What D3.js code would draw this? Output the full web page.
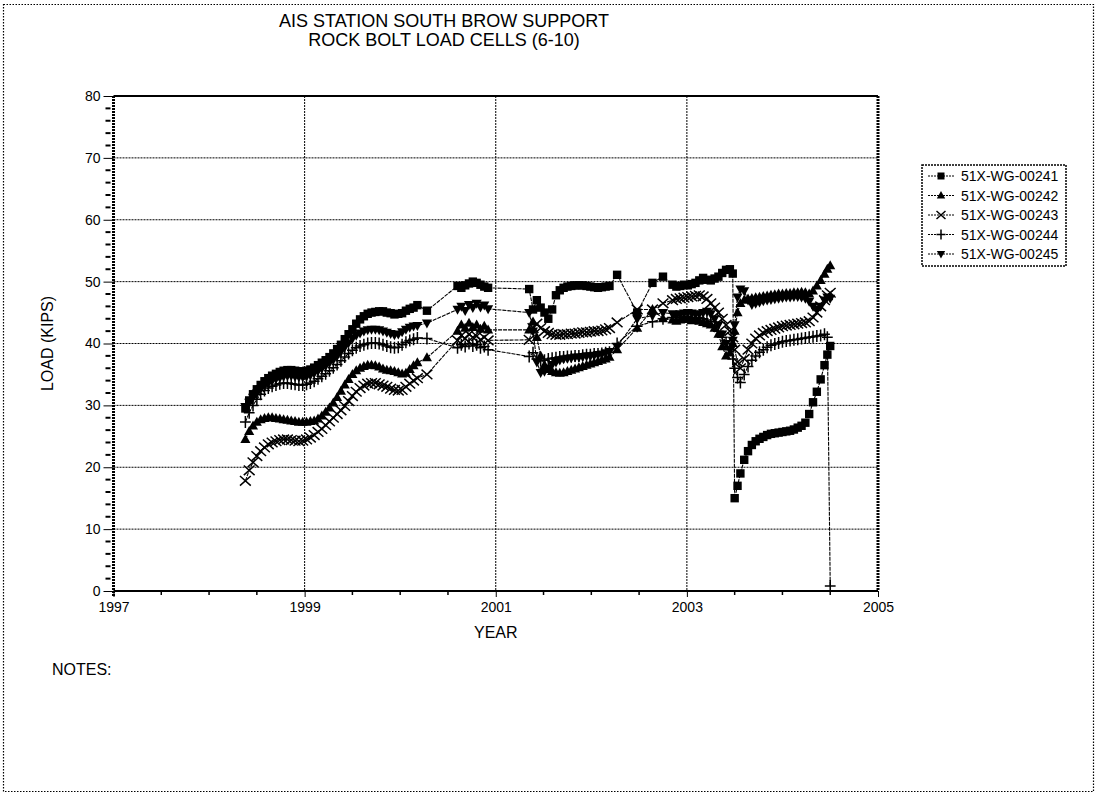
<!DOCTYPE html>
<html><head><meta charset="utf-8">
<script src="https://cdn.jsdelivr.net/npm/d3@7"></script>
<style>
body{margin:0;background:#fff}
svg{display:block}
text{font-family:Arial,"Liberation Sans",sans-serif;fill:#000}
</style>
</head><body>
<svg id="c" width="1097" height="796"></svg>
<script>
// ---------- DATA ----------
const titleLines = ["AIS STATION SOUTH BROW SUPPORT", "ROCK BOLT LOAD CELLS (6-10)"];
const seriesNames = ["51X-WG-00241", "51X-WG-00242", "51X-WG-00243", "51X-WG-00244", "51X-WG-00245"];
const xTickLabels = [1997, 1999, 2001, 2003, 2005];
const yTickLabels = [0, 10, 20, 30, 40, 50, 60, 70, 80];

const dates = [
  1998.38,1998.42,1998.46,1998.50,1998.54,1998.58,1998.62,1998.66,1998.70,1998.74,1998.78,1998.82,1998.86,1998.90,1998.94,1998.98,
  1999.02,1999.06,1999.10,1999.14,1999.18,1999.22,1999.26,1999.30,1999.34,1999.38,1999.42,1999.46,1999.50,1999.54,1999.58,1999.62,1999.66,1999.70,1999.74,1999.78,1999.82,1999.86,1999.90,1999.94,1999.98,
  2000.02,2000.06,2000.10,2000.14,2000.18,2000.28,
  2000.60,2000.64,2000.68,2000.72,2000.76,2000.80,2000.84,2000.88,2000.92,
  2001.35,2001.39,2001.43,2001.47,2001.51,2001.55,2001.59,2001.63,2001.67,2001.71,2001.75,2001.79,2001.83,2001.87,2001.91,2001.95,2001.99,2002.03,2002.07,2002.11,2002.15,2002.19,
  2002.27,2002.48,
  2002.64,2002.75,2002.85,2002.89,2002.93,2002.97,2003.01,2003.05,2003.09,2003.13,2003.17,2003.21,2003.25,2003.29,2003.33,2003.37,2003.41,2003.45,2003.48,
  2003.50,2003.53,2003.56,2003.60,2003.64,2003.68,2003.72,2003.76,2003.80,2003.84,2003.88,2003.92,2003.96,2004.00,2004.04,2004.08,2004.12,2004.16,2004.20,2004.24,2004.28,2004.32,2004.36,2004.40,2004.44,2004.47,2004.50
];

const load241 = [
  29.5,30.8,31.8,32.6,33.3,33.9,34.4,34.8,35.1,35.4,35.6,35.7,35.7,35.6,35.5,35.5,
  35.6,35.8,36.1,36.5,36.9,37.3,37.8,38.4,39.1,39.8,40.7,41.5,42.3,43.2,43.9,44.4,44.8,45.0,45.1,45.2,45.2,45.0,44.9,44.7,44.8,
  44.9,45.3,45.6,45.8,46.2,45.3,
  49.3,49.0,49.4,49.7,50.0,49.8,49.5,49.2,49.0,
  48.8,45.5,47.0,45.8,45.0,44.0,45.5,47.8,48.6,49.0,49.2,49.3,49.4,49.4,49.4,49.3,49.2,49.1,49.0,49.1,49.2,49.3,
  51.1,45.0,
  49.8,50.8,49.5,49.2,49.3,49.5,49.4,49.6,49.8,50.2,50.6,50.3,50.2,50.5,50.8,51.4,51.9,52.0,51.3,
  15.0,17.0,19.0,21.2,22.6,23.6,24.2,24.6,24.9,25.2,25.4,25.5,25.6,25.7,25.8,25.9,26.1,26.4,26.7,27.2,28.6,30.5,32.2,34.2,36.5,38.2,39.6
];
const load242 = [
  24.5,25.8,26.7,27.3,27.7,27.9,28.0,28.0,27.9,27.8,27.7,27.6,27.5,27.4,27.3,27.3,
  27.3,27.4,27.5,27.8,28.3,28.9,29.6,30.4,31.3,32.3,33.3,34.2,35.0,35.6,36.0,36.3,36.5,36.5,36.4,36.2,35.9,35.7,35.6,35.5,35.3,
  35.1,35.2,35.8,36.4,36.9,37.7,
  42.0,43.0,42.5,43.3,42.6,43.0,42.3,42.8,42.2,
  42.2,43.5,41.0,38.0,36.5,35.8,35.5,35.3,35.2,35.3,35.5,35.7,35.9,36.1,36.3,36.5,36.7,36.9,37.1,37.3,37.5,37.8,
  39.0,42.5,
  45.5,44.0,43.8,43.6,43.8,44.0,43.9,43.7,43.8,43.6,43.4,43.2,43.0,42.5,41.5,39.5,38.0,38.5,40.0,
  42.0,45.0,46.5,47.0,47.2,47.3,47.4,47.5,47.6,47.7,47.8,47.9,48.0,48.0,48.1,48.1,48.2,48.2,48.3,48.2,48.0,48.5,49.3,50.2,51.2,52.0,52.6
];
const load243 = [
  17.8,19.5,20.8,21.8,22.6,23.2,23.7,24.0,24.2,24.4,24.5,24.5,24.4,24.3,24.2,24.3,
  24.5,24.8,25.2,25.7,26.2,26.8,27.4,28.0,28.6,29.2,29.9,30.7,31.5,32.2,32.8,33.2,33.5,33.6,33.6,33.4,33.2,33.0,32.7,32.5,32.4,
  32.5,33.0,33.5,34.0,34.4,35.0,
  40.5,41.3,40.8,41.5,41.0,41.2,40.6,41.0,40.5,
  40.6,42.5,43.2,42.5,42.0,41.7,41.5,41.4,41.4,41.5,41.5,41.6,41.6,41.7,41.8,41.8,41.9,42.0,42.0,42.1,42.3,42.5,
  43.4,45.5,
  45.5,46.5,47.0,47.2,47.3,47.4,47.5,47.6,47.7,47.8,47.6,47.2,46.5,45.8,45.0,44.0,43.0,42.0,41.0,
  39.0,37.0,36.0,37.5,39.0,40.0,40.8,41.3,41.7,42.0,42.2,42.4,42.6,42.8,42.9,43.0,43.1,43.2,43.3,43.4,43.6,44.2,45.0,46.0,47.0,47.8,48.2
];
const load244 = [
  27.3,28.8,30.0,31.0,31.8,32.4,32.8,33.1,33.3,33.5,33.6,33.6,33.5,33.4,33.3,33.3,
  33.4,33.6,33.9,34.3,34.7,35.1,35.6,36.1,36.6,37.2,37.8,38.4,38.9,39.3,39.6,39.8,40.0,40.1,40.1,40.0,39.8,39.6,39.4,39.3,39.4,
  39.8,40.2,40.5,40.7,40.9,40.8,
  39.3,39.8,39.5,40.0,39.6,39.8,39.3,39.5,39.0,
  37.9,38.5,37.5,37.2,37.3,37.5,37.6,37.7,37.8,37.8,37.9,37.9,38.0,38.0,38.1,38.2,38.2,38.3,38.3,38.4,38.5,38.6,
  40.0,42.8,
  43.5,44.0,44.2,44.3,44.2,44.3,44.4,44.2,44.1,44.2,44.0,43.8,43.5,42.8,42.0,41.0,40.0,39.0,37.5,
  36.0,34.5,33.7,35.0,36.3,37.3,38.0,38.6,39.0,39.4,39.7,39.9,40.1,40.3,40.4,40.5,40.6,40.7,40.8,40.9,41.0,41.1,41.2,41.3,41.5,41.0,0.8
];
const load245 = [
  29.8,30.5,31.3,32.0,32.7,33.2,33.6,34.0,34.3,34.5,34.7,34.8,34.8,34.7,34.6,34.6,
  34.7,34.9,35.2,35.6,36.0,36.4,36.9,37.4,38.0,38.7,39.4,40.1,40.8,41.3,41.7,42.0,42.2,42.3,42.3,42.2,42.0,41.8,41.6,41.4,41.5,
  41.9,42.3,42.6,42.8,42.9,43.3,
  45.5,46.0,45.3,46.3,45.8,46.5,45.9,46.2,45.6,
  45.0,42.0,37.0,35.3,35.5,36.0,36.6,37.0,37.3,37.5,37.6,37.7,37.8,37.8,37.9,38.0,38.0,38.1,38.2,38.3,38.5,38.7,
  39.5,44.0,
  44.5,45.0,44.8,44.6,44.8,44.9,45.0,44.9,44.7,44.8,45.0,45.2,44.8,44.0,43.0,41.5,40.0,39.0,40.5,
  43.0,47.5,48.8,48.5,47.0,46.3,46.5,46.7,46.9,47.0,47.1,47.2,47.3,47.4,47.5,47.5,47.6,47.6,47.5,47.3,46.8,46.0,45.5,46.0,47.0,47.5,47.3
];
const seriesValues = [load241, load242, load243, load244, load245];
const markerKinds = ["square", "triUp", "cross", "plus", "triDown"];

// ---------- LAYOUT ----------
const svg = d3.select("#c");
const x = d3.scaleLinear().domain([1997, 2005]).range([113.5, 878]);
const y = d3.scaleLinear().domain([0, 80]).range([591, 96]);

// outer dotted frame
svg.append("rect").attr("x", 3.5).attr("y", 4.5).attr("width", 1090).attr("height", 787)
  .attr("fill", "none").attr("stroke", "#000").attr("stroke-width", 1.2).attr("stroke-dasharray", "1.5,1.5");

// title
svg.append("text").attr("x", 444).attr("y", 27).attr("text-anchor", "middle")
  .style("font-size", "18px").text(titleLines[0]);
svg.append("text").attr("x", 444).attr("y", 46).attr("text-anchor", "middle")
  .style("font-size", "18px").text(titleLines[1]);

// grid
const g = svg.append("g");
g.selectAll("line.hg").data(yTickLabels.filter(v => v > 0 && v < 80)).join("line")
  .attr("x1", x(1997)).attr("x2", x(2005)).attr("y1", d => y(d)).attr("y2", d => y(d))
  .attr("stroke", "#000").attr("stroke-width", 1).attr("stroke-dasharray", "2,1");
g.selectAll("line.vg").data(xTickLabels.filter(v => v > 1997 && v < 2005)).join("line")
  .attr("x1", d => x(d)).attr("x2", d => x(d)).attr("y1", y(80)).attr("y2", y(0))
  .attr("stroke", "#000").attr("stroke-width", 1).attr("stroke-dasharray", "2,1");

// frame lines
g.append("line").attr("x1", x(1997)).attr("x2", x(2005)).attr("y1", y(80)).attr("y2", y(80))
  .attr("stroke", "#000").attr("stroke-width", 2);
g.append("line").attr("x1", x(2005)).attr("x2", x(2005)).attr("y1", y(80)).attr("y2", y(0))
  .attr("stroke", "#000").attr("stroke-width", 3).attr("stroke-dasharray", "2,1");

// axes
const yAxis = d3.axisLeft(y).tickValues(yTickLabels).tickSize(10).tickPadding(3).tickFormat(d3.format("d"));
const ya = svg.append("g").attr("transform", `translate(${x(1997)},0)`).call(yAxis);
ya.select(".domain").remove();
ya.selectAll("text").style("font-size", "14px").style("font-family", "Arial, 'Liberation Sans', sans-serif");
const yMinor = d3.range(0, 81, 2).filter(v => v % 10 !== 0);
svg.selectAll("line.ym").data(yMinor).join("line")
  .attr("x1", x(1997) - 8).attr("x2", x(1997) - 3).attr("y1", d => y(d)).attr("y2", d => y(d))
  .attr("stroke", "#000").attr("stroke-width", 2);

const xAxis = d3.axisBottom(x).tickValues(xTickLabels).tickSize(6).tickPadding(5).tickFormat(d3.format("d"));
const xa = svg.append("g").attr("transform", `translate(0,${y(0)})`).call(xAxis);
xa.select(".domain").remove();
xa.selectAll("text").style("font-size", "14px").style("font-family", "Arial, 'Liberation Sans', sans-serif");
const xMinor = d3.range(1997.5, 2005, 0.5).filter(v => !xTickLabels.includes(v));
svg.selectAll("line.xm").data(xMinor).join("line")
  .attr("x1", d => x(d)).attr("x2", d => x(d)).attr("y1", y(0)).attr("y2", y(0) + 4)
  .attr("stroke", "#000").attr("stroke-width", 1.5);

svg.append("line").attr("x1", x(1997)).attr("x2", x(2005)).attr("y1", y(0)).attr("y2", y(0))
  .attr("stroke", "#000").attr("stroke-width", 2);
svg.append("line").attr("x1", x(1997)).attr("x2", x(1997)).attr("y1", y(80)).attr("y2", y(0) + 6)
  .attr("stroke", "#000").attr("stroke-width", 3).attr("stroke-dasharray", "2,1");

// axis titles
svg.append("text").attr("x", (x(1997) + x(2005)) / 2).attr("y", 638).attr("text-anchor", "middle")
  .style("font-size", "16px").text("YEAR");
svg.append("text").attr("transform", `translate(53,${(y(0) + y(80)) / 2}) rotate(-90)`)
  .attr("text-anchor", "middle").style("font-size", "16px").text("LOAD (KIPS)");
svg.append("text").attr("x", 52).attr("y", 675).style("font-size", "16px").text("NOTES:");

// markers
function drawMarker(sel, kind, s) {
  const k = s || 1;
  if (kind === "square") {
    sel.append("rect").attr("x", -3.5 * k).attr("y", -3.5 * k).attr("width", 7 * k).attr("height", 7 * k).attr("fill", "#000");
  } else if (kind === "triUp") {
    sel.append("path").attr("d", `M0,${-4.5 * k}L${4.2 * k},${3 * k}L${-4.2 * k},${3 * k}Z`).attr("fill", "#000");
  } else if (kind === "triDown") {
    sel.append("path").attr("d", `M0,${4.5 * k}L${4.2 * k},${-3 * k}L${-4.2 * k},${-3 * k}Z`).attr("fill", "#000");
  } else if (kind === "cross") {
    sel.append("path").attr("d", `M${-4.5 * k},${-4 * k}L${4.5 * k},${4 * k}M${-4.5 * k},${4 * k}L${4.5 * k},${-4 * k}`)
      .attr("stroke", "#000").attr("stroke-width", 1.5).attr("fill", "none");
  } else if (kind === "plus") {
    sel.append("path").attr("d", `M${-4.5 * k},0L${4.5 * k},0M0,${-5 * k}L0,${5 * k}`)
      .attr("stroke", "#000").attr("stroke-width", 1.5).attr("fill", "none");
  }
}

const line = d3.line().x(d => x(d[0])).y(d => y(d[1]));
seriesValues.forEach((vals, si) => {
  const n = Math.min(vals.length, dates.length);
  const pts = d3.range(n).map(i => [dates[i], vals[i]]);
  const sg = svg.append("g");
  sg.append("path").attr("d", line(pts)).attr("fill", "none").attr("stroke", "#000")
    .attr("stroke-width", 1.1).attr("stroke-dasharray", "4,1");
  sg.selectAll("g.m").data(pts).join("g").attr("transform", d => `translate(${x(d[0])},${y(d[1])})`)
    .each(function () { drawMarker(d3.select(this), markerKinds[si], 1.2); });
});

// legend
const lg = svg.append("g");
lg.append("rect").attr("x", 922).attr("y", 165).attr("width", 144).attr("height", 101)
  .attr("fill", "#fff").attr("stroke", "#000").attr("stroke-width", 1.5).attr("stroke-dasharray", "2,1");
seriesNames.forEach((nm, i) => {
  const yy = 176 + i * 19.5;
  lg.append("line").attr("x1", 928).attr("x2", 954).attr("y1", yy).attr("y2", yy)
    .attr("stroke", "#000").attr("stroke-width", 1).attr("stroke-dasharray", "2,1");
  const mg = lg.append("g").attr("transform", `translate(941,${yy})`);
  drawMarker(mg, markerKinds[i], 1);
  lg.append("text").attr("x", 961).attr("y", yy + 5).style("font-size", "14px").text(nm);
});
</script>
</body></html>
